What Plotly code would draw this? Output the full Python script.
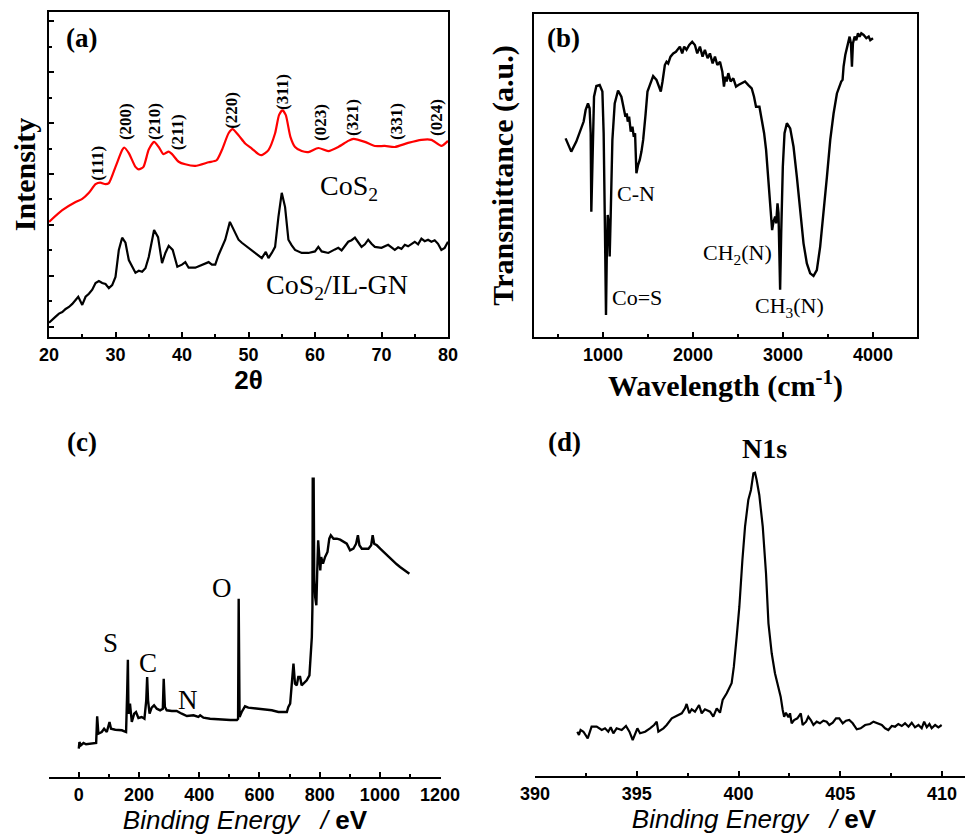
import plotly.graph_objects as go

# ---------------- data ----------------
# (a) XRD
xrd_cos2_x = [20, 22, 24, 25, 26, 27, 27.7, 28.5, 29, 30, 31, 31.3, 32, 33, 33.5, 34.2, 35, 35.8, 36.5,
              37.2, 38, 38.5, 39.5, 40.5, 42, 44, 45.2, 46, 47, 47.6, 48.5, 49.5, 50.5, 51.5, 52, 53,
              54, 54.6, 55.1, 55.6, 56.3, 57, 58, 59, 60.5, 62, 63.5, 65, 65.8, 67.5, 69, 70.5, 72,
              74, 76, 77.5, 79, 80]
xrd_cos2_y = [2.06, 2.29, 2.45, 2.51, 2.63, 2.80, 2.83, 2.80, 2.82, 3.14, 3.47, 3.52, 3.41, 3.14, 3.09,
              3.14, 3.48, 3.63, 3.53, 3.39, 3.44, 3.39, 3.24, 3.19, 3.16, 3.23, 3.27, 3.47, 3.80, 3.88,
              3.76, 3.60, 3.50, 3.39, 3.37, 3.47, 3.80, 4.16, 4.25, 4.16, 3.73, 3.53, 3.45, 3.43, 3.51,
              3.45, 3.53, 3.65, 3.69, 3.63, 3.55, 3.55, 3.53, 3.61, 3.67, 3.67, 3.55, 3.65]

xrd_ilgn_x = [20, 20.5, 21, 21.5, 22, 22.5, 23, 23.5, 24, 24.4, 25, 25.5, 26, 26.5, 27, 27.5, 28, 28.5,
              29, 29.5, 30, 30.5, 31, 31.5, 32, 32.5, 33, 33.5, 34, 34.5, 35, 35.8, 36.4, 37, 37.5, 38,
              38.6, 39.3, 40, 40.5, 41, 42, 43, 44, 44.5, 45, 45.5, 46, 46.5, 47.2, 47.8, 48.5, 49,
              50, 50.5, 51, 51.5, 52, 52.6, 53, 53.5, 54, 54.5, 55, 55.5, 56, 56.5, 57, 58, 59, 60,
              60.5, 61, 62, 63, 63.5, 64, 65, 65.5, 66, 66.5, 67, 67.5, 68, 68.5, 69, 70, 70.5, 71,
              72, 72.5, 73, 73.5, 74, 75, 75.5, 76, 76.5, 77, 77.5, 78, 78.5, 79, 79.5, 80]
xrd_ilgn_y = [0.08, 0.15, 0.20, 0.26, 0.29, 0.35, 0.39, 0.45, 0.53, 0.59, 0.43, 0.59, 0.65, 0.73, 0.86,
              0.90, 0.86, 0.84, 0.76, 0.82, 0.98, 1.51, 1.75, 1.65, 1.31, 1.18, 1.06, 1.10, 1.08, 1.15,
              1.37, 1.90, 1.76, 1.25, 1.45, 1.59, 1.51, 1.18, 1.22, 1.27, 1.16, 1.16, 1.22, 1.27, 1.22,
              1.22, 1.41, 1.55, 1.71, 2.06, 1.90, 1.71, 1.65, 1.55, 1.50, 1.45, 1.40, 1.35, 1.47, 1.35,
              1.45, 1.57, 2.16, 2.63, 2.35, 1.71, 1.60, 1.51, 1.45, 1.45, 1.48, 1.57, 1.48, 1.45, 1.52,
              1.55, 1.50, 1.67, 1.70, 1.75, 1.66, 1.57, 1.62, 1.71, 1.63, 1.57, 1.55, 1.58, 1.61, 1.51,
              1.56, 1.53, 1.61, 1.58, 1.67, 1.62, 1.73, 1.68, 1.71, 1.67, 1.70, 1.63, 1.51, 1.55, 1.67]

hkl_labels = ["(111)", "(200)", "(210)", "(211)", "(220)", "(311)", "(023)", "(321)", "(331)", "(024)"]
hkl_x = [27.37, 31.43, 35.79, 39.25, 47.52, 55.19, 60.75, 65.71, 72.18, 78.35]
hkl_y = [3.20, 4.02, 4.02, 3.82, 4.24, 4.61, 4.02, 4.12, 4.02, 4.10]

# (b) FTIR
ftir_x = [584, 647, 703, 759, 785, 807, 833, 851, 863, 870, 881, 900, 926, 963, 993, 1007, 1022, 1033,
          1041, 1052, 1067, 1074, 1085, 1104, 1130, 1167, 1204, 1230, 1249, 1264, 1275, 1290, 1308,
          1327, 1342, 1356, 1371, 1390, 1408, 1427, 1446, 1472, 1494, 1520, 1557, 1594, 1624, 1642,
          1661, 1687, 1706, 1724, 1750, 1780, 1810, 1835, 1854, 1880, 1902, 1928, 1958, 1991, 2021,
          2047, 2077, 2106, 2132, 2162, 2188, 2218, 2244, 2270, 2300, 2326, 2344, 2359, 2374, 2392,
          2418, 2448, 2478, 2504, 2541, 2578, 2615, 2652, 2678, 2700, 2738, 2764, 2790, 2812, 2831,
          2849, 2864, 2879, 2894, 2913, 2924, 2939, 2950, 2961, 2968, 2980, 2998, 3017, 3043, 3080,
          3117, 3154, 3191, 3228, 3265, 3302, 3339, 3376, 3413, 3451, 3488, 3525, 3562, 3599, 3629,
          3647, 3662, 3673, 3692, 3711, 3729, 3740, 3755, 3766, 3777, 3796, 3814, 3833, 3851, 3870,
          3896, 3926, 3952, 3970, 4000]
ftir_y = [61.5, 57.4, 60.5, 65.1, 66.7, 70.3, 72.3, 70.8, 63.1, 38.8, 52.7, 74.4, 77.7, 78.0, 76.0, 63.1,
          32.1, 6.8, 23.8, 37.8, 34.2, 24.9, 37.3, 61.0, 72.3, 76.3, 74.4, 70.3, 68.2, 69.2, 66.7, 68.2,
          63.6, 65.1, 62.0, 63.1, 50.7, 53.3, 54.8, 57.4, 61.0, 68.7, 76.0, 78.0, 80.8, 79.6, 77.0, 76.0,
          79.1, 84.2, 85.2, 84.7, 86.8, 87.8, 88.3, 89.4, 89.9, 87.8, 89.9, 88.9, 90.4, 91.4, 90.4, 87.8,
          89.9, 86.8, 88.9, 86.3, 87.8, 84.7, 86.8, 84.2, 85.2, 82.1, 77.5, 80.6, 79.1, 81.7, 79.1, 80.1,
          77.5, 78.0, 78.5, 79.1, 78.0, 77.0, 74.4, 71.3, 71.3, 67.2, 63.1, 57.9, 50.7, 42.4, 36.2, 33.1,
          35.7, 37.3, 35.2, 41.4, 38.4, 23.8, 14.6, 32.1, 52.7, 63.1, 66.2, 64.6, 58.9, 49.6, 38.3, 29.0,
          22.8, 19.7, 18.9, 20.7, 28.0, 38.3, 49.6, 61.0, 69.2, 75.4, 78.0, 79.1, 79.6, 83.7, 87.3, 89.4,
          91.9, 93.0, 90.9, 83.7, 90.9, 93.0, 91.9, 94.0, 93.0, 94.0, 93.5, 92.5, 93.0, 91.9, 92.5]
ftir_labels = ["C-N", "Co=S", "CH<sub>2</sub>(N)", "CH<sub>3</sub>(N)"]
ftir_label_x = [1367, 1378, 2489, 3067]
ftir_label_y = [44.3, 12.1, 25.7, 9.3]

# (c) XPS survey
xps_x = [0, 2, 7, 15.5, 24, 38, 57.6, 61, 65, 76, 84, 93, 102, 107, 121, 143, 157, 160.5, 163, 165, 170,
         176, 184, 190, 198, 209, 218, 224, 227, 230, 235, 242, 250, 259, 270, 279, 282, 286, 292, 309,
         325, 342, 359, 381, 397, 403, 414, 436, 458, 480, 503, 525, 529, 531, 534, 541, 552, 563, 586,
         613, 641, 663, 691, 696, 702, 707, 713, 718, 724, 729, 735, 740, 746, 757, 766, 770, 774, 776,
         777, 780, 782, 785, 789, 792, 795, 799, 802, 805, 811, 818, 826, 832, 837, 846, 857, 868, 879,
         890, 901, 912, 921, 927, 932, 940, 951, 962, 971, 976, 981, 990, 1001, 1012, 1023, 1034, 1045,
         1056, 1067, 1078, 1089, 1098]
xps_y = [28.3, 35, 31.7, 34, 32.7, 33.3, 34, 60.7, 43.3, 45, 48.3, 45, 55, 48.3, 47.3, 46.7, 45, 83.3,
         117.3, 63.3, 73.3, 55, 63.3, 65, 59, 60, 58.3, 76.7, 100, 76.7, 63.3, 69.3, 71.7, 68.3, 66.7,
         68.3, 98.3, 70, 66.7, 66, 66, 63.3, 61, 61.7, 60, 61.7, 59.3, 58.3, 57.7, 57.7, 57, 57, 58.3,
         178.3, 60, 65, 70.7, 69.3, 68.7, 67.3, 66.7, 65, 65, 70, 73.3, 91.7, 113.3, 93.3, 91.7, 100,
         100, 91.7, 93.3, 96.7, 101.7, 123.3, 140, 170, 298.3, 298.3, 196.7, 180, 171.7, 206.7, 236.7,
         220, 206.7, 220, 213.3, 220, 225, 238.3, 241.7, 238.3, 238.3, 237.3, 235, 233.3, 226.7, 228.3,
         233.3, 241.7, 231.7, 228.3, 228.3, 228.3, 231.7, 241.7, 233.3, 231.7, 228.3, 225, 221.7, 218.3,
         215, 212.7, 210, 207.3, 205, 203.3]
xps_labels = ["S", "C", "N", "O"]
xps_label_x = [104, 230, 363, 477]
xps_label_y = [134, 114, 77, 189]

# (d) N1s
n1s_x = [392.08, 392.16, 392.24, 392.38, 392.59, 392.78, 393.03, 393.28, 393.44, 393.60, 393.72, 393.85,
         394.01, 394.26, 394.47, 394.64, 394.80, 395.03, 395.16, 395.41, 395.65, 395.85, 395.98, 396.06,
         396.31, 396.47, 396.72, 396.96, 397.21, 397.37, 397.45, 397.58, 397.70, 397.86, 398.06, 398.19,
         398.35, 398.60, 398.76, 398.93, 399.09, 399.22, 399.42, 399.66, 399.77, 399.91, 400.04, 400.19,
         400.32, 400.48, 400.61, 400.73, 400.81, 400.89, 401.02, 401.19, 401.35, 401.47, 401.63, 401.79,
         401.96, 402.07, 402.17, 402.24, 402.33, 402.45, 402.53, 402.61, 402.73, 402.89, 403.06, 403.15,
         403.32, 403.43, 403.55, 403.68, 403.84, 404.00, 404.17, 404.33, 404.46, 404.63, 404.79, 404.95,
         405.12, 405.28, 405.44, 405.61, 405.81, 406.00, 406.22, 406.46, 406.63, 406.82, 407.04, 407.20,
         407.36, 407.53, 407.69, 407.85, 408.02, 408.18, 408.35, 408.51, 408.67, 408.84, 409.00, 409.12,
         409.25, 409.38, 409.49, 409.66, 409.82, 409.98]
n1s_y = [44.3, 41, 46, 44.3, 37.7, 49.3, 49.3, 46, 47.7, 44.3, 48.7, 42.7, 47.7, 46, 50, 44.3, 36, 47.7,
         42.7, 44.3, 47.7, 51, 54.3, 44.3, 47.7, 51, 57.7, 60, 62.7, 67.7, 72, 62.7, 66.7, 64.3, 71, 62.7,
         66.7, 64.3, 59.3, 67.7, 63.3, 76, 82.7, 92.7, 109.3, 139.3, 169.3, 216, 249.3, 276, 286, 302.7,
         303.3, 296, 281, 249.3, 202.7, 152.7, 122.7, 102.7, 89.3, 79.3, 66, 59.3, 63.3, 58.7, 62.7, 52.7,
         56, 57.7, 62.7, 51, 54.3, 59.3, 56, 51, 54.3, 52.7, 55.3, 54.3, 51, 53.3, 57.7, 57.7, 52.7, 55.3,
         56, 52.7, 46.7, 47.7, 51, 52, 54.3, 52.7, 51, 47.7, 46, 50, 49.3, 52, 50, 52.7, 49.3, 53.3, 48.7,
         51, 47.7, 54.3, 48.7, 52, 47.7, 51, 48.7, 51]

# ---------------- figure ----------------
# the page body has an 8 px margin, so the plot is drawn 8 px in from the window corner
OFF = 8
W, H = 973 - OFF, 839 - OFF
SERIF = "Liberation Serif"
SANS = "Liberation Sans"


def fx(px):
    return (px - OFF) / W


def fy(py):
    return 1 - (py - OFF) / H


fig = go.Figure()
fig.add_trace(go.Scatter(x=xrd_cos2_x, y=xrd_cos2_y, mode="lines",
                         line=dict(color="#ff0000", width=2.2, shape="spline", smoothing=0.6),
                         xaxis="x", yaxis="y", showlegend=False))
fig.add_trace(go.Scatter(x=xrd_ilgn_x, y=xrd_ilgn_y, mode="lines", line=dict(color="black", width=2.2),
                         xaxis="x", yaxis="y", showlegend=False))
fig.add_trace(go.Scatter(x=ftir_x, y=ftir_y, mode="lines", line=dict(color="black", width=2.4),
                         xaxis="x2", yaxis="y2", showlegend=False))
fig.add_trace(go.Scatter(x=xps_x, y=xps_y, mode="lines", line=dict(color="black", width=2.4),
                         xaxis="x3", yaxis="y3", showlegend=False))
fig.add_trace(go.Scatter(x=n1s_x, y=n1s_y, mode="lines", line=dict(color="black", width=2.2),
                         xaxis="x4", yaxis="y4", showlegend=False))

tickfont = dict(family=SANS, size=18, color="black", weight="bold")
common_x = dict(showline=True, linecolor="black", linewidth=2, ticks="inside", ticklen=5, tickwidth=2,
                tickcolor="black", showgrid=False, zeroline=False, tickfont=tickfont, automargin=False)
minor_style = dict(ticks="inside", ticklen=3, tickwidth=2, tickcolor="black")

layout = dict(
    width=W, height=H, margin=dict(l=0, r=0, t=0, b=0),
    paper_bgcolor="white", plot_bgcolor="white", showlegend=False,
    # (a)
    xaxis=dict(domain=[fx(49), fx(448)], range=[20, 80], dtick=10, anchor="y", mirror=True,
               minor=dict(dtick=5, **minor_style),
               title=dict(text="2θ", font=dict(family=SANS, size=26, color="black", weight="bold"), standoff=6),
               **common_x),
    yaxis=dict(domain=[fy(337), fy(12)], range=[-0.2, 6.18], dtick=1, anchor="x", mirror=True,
               showline=True, linecolor="black", linewidth=2, ticks="inside", ticklen=5, tickwidth=2,
               tickcolor="black", showticklabels=False, showgrid=False, zeroline=False, automargin=False,
               minor=dict(dtick=0.5, **minor_style),
               title=dict(text="Intensity", font=dict(family=SERIF, size=30, color="black", weight="bold"), standoff=10)),
    # (b)
    xaxis2=dict(domain=[fx(534), fx(917)], range=[233, 4489], tick0=0, dtick=1000, anchor="y2", mirror=True,
                minor=dict(dtick=500, **minor_style),
                title=dict(text="Wavelength (cm<sup>-1</sup>)",
                           font=dict(family=SERIF, size=30, color="black", weight="bold"), standoff=6),
                **common_x),
    yaxis2=dict(domain=[fy(337), fy(14)], range=[0, 100], anchor="x2", mirror=True,
                showline=True, linecolor="black", linewidth=2, ticks="", showticklabels=False,
                showgrid=False, zeroline=False, automargin=False,
                title=dict(text="Transmittance (a.u.)",
                           font=dict(family=SERIF, size=30, color="black", weight="bold"), standoff=10)),
    # (c)
    xaxis3=dict(domain=[fx(49), fx(441)], range=[-99, 1203], dtick=200, anchor="y3",
                minor=dict(dtick=100, **minor_style),
                title=dict(text="<i>Binding Energy</i>   <i>/</i> <b>eV</b>",
                           font=dict(family=SANS, size=26, color="black"), standoff=6),
                **common_x),
    yaxis3=dict(domain=[fy(777), fy(430)], range=[0, 347], anchor="x3", visible=False),
    # (d)
    xaxis4=dict(domain=[fx(535), 1.0], range=[390, 411.52], dtick=5, anchor="y4",
                minor=dict(dtick=2.5, **minor_style),
                title=dict(text="<i>Binding Energy</i>   <i>/</i> <b>eV</b>",
                           font=dict(family=SANS, size=26, color="black"), standoff=6),
                **common_x),
    yaxis4=dict(domain=[fy(776), fy(430)], range=[0, 346], anchor="x4", visible=False),
)
fig.update_layout(**layout)

ann = []
letter_font = dict(family=SERIF, size=27, color="black")
ann.append(dict(x=24.96, y=5.67, xref="x", yref="y", text="<b>(a)</b>", showarrow=False, font=letter_font))
ann.append(dict(x=556, y=92.6, xref="x2", yref="y2", text="<b>(b)</b>", showarrow=False, font=letter_font))
ann.append(dict(x=11, y=335, xref="x3", yref="y3", text="<b>(c)</b>", showarrow=False, font=letter_font))
ann.append(dict(x=391.43, y=334, xref="x4", yref="y4", text="<b>(d)</b>", showarrow=False, font=letter_font))
# (a) labels
for t, x, y in zip(hkl_labels, hkl_x, hkl_y):
    ann.append(dict(x=x, y=y, xref="x", yref="y", text="<b>" + t + "</b>", textangle=-90, showarrow=False,
                    font=dict(family=SERIF, size=17, color="black")))
ann.append(dict(x=65.1, y=2.73, xref="x", yref="y", text="CoS<sub>2</sub>", showarrow=False,
                font=dict(family=SERIF, size=28, color="black")))
ann.append(dict(x=63.3, y=0.80, xref="x", yref="y", text="CoS<sub>2</sub>/IL-GN", showarrow=False,
                font=dict(family=SERIF, size=28, color="black")))
# (b) labels
for t, x, y in zip(ftir_labels, ftir_label_x, ftir_label_y):
    ann.append(dict(x=x, y=y, xref="x2", yref="y2", text=t, showarrow=False,
                    font=dict(family=SERIF, size=22, color="black")))
# (c) labels
for t, x, y in zip(xps_labels, xps_label_x, xps_label_y):
    ann.append(dict(x=x, y=y, xref="x3", yref="y3", text=t, showarrow=False,
                    font=dict(family=SERIF, size=27, color="black")))
# (d) label
ann.append(dict(x=401.3, y=328, xref="x4", yref="y4", text="<b>N1s</b>", showarrow=False,
                font=dict(family=SERIF, size=28, color="black")))
fig.update_layout(annotations=ann)

fig.write_html("out.html")
